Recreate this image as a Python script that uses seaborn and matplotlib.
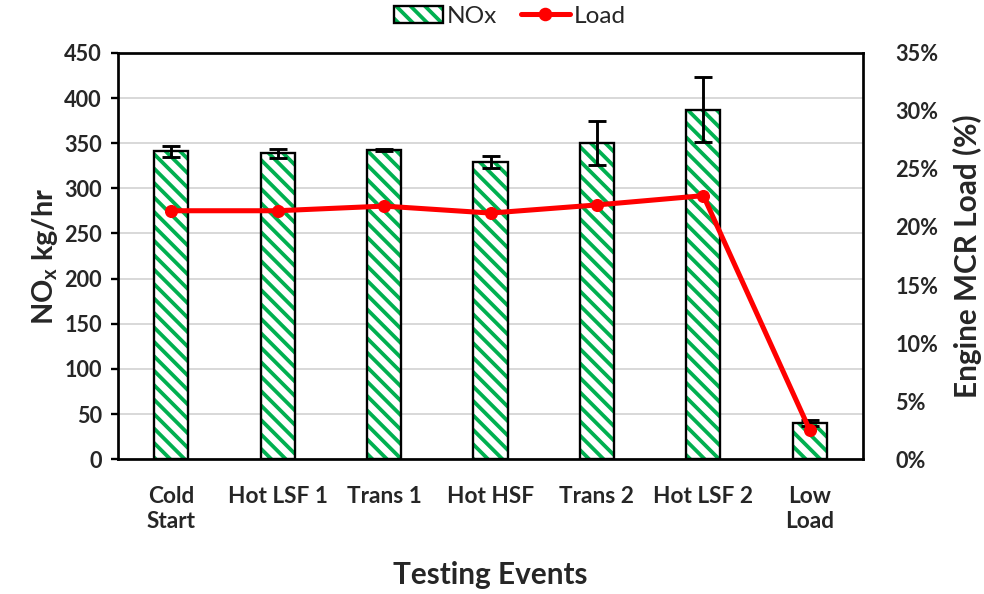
import numpy as np
import pandas as pd
import matplotlib
matplotlib.use("Agg")
import matplotlib.pyplot as plt
from matplotlib.patches import Patch
from matplotlib.lines import Line2D
from matplotlib.legend_handler import HandlerTuple
from matplotlib.ticker import FuncFormatter, MultipleLocator
import seaborn as sns

events = ["Cold\nStart", "Hot LSF 1", "Trans 1", "Hot HSF", "Trans 2", "Hot LSF 2", "Low\nLoad"]
nox_kg_hr = [341, 339, 342, 329, 350, 387, 40]
nox_err = [6, 5, 1, 7, 24, 36, 3]
load_pct = [21.4, 21.4, 21.8, 21.2, 21.9, 22.7, 2.5]

GREEN = "#00B050"
RED = "#FF0000"
HATCH = "\\\\\\"

sns.set_theme(style="white")
plt.rcParams["font.family"] = ["Lato", "DejaVu Sans"]
plt.rcParams["hatch.linewidth"] = 2.1

DPI = 130
fig = plt.figure(figsize=(984 / DPI, 594 / DPI), dpi=DPI)
ax = fig.add_axes([0.12, 0.227, 0.757, 0.684])

df = pd.DataFrame({"event": events, "nox": nox_kg_hr})

# hatched fill (green stripes) then a black outline on top
sns.barplot(data=df, x="event", y="nox", ax=ax, width=0.32, color="white",
            errorbar=None, saturation=1, zorder=2)
for p in list(ax.patches):
    p.set_hatch(HATCH)
    p.set_edgecolor(GREEN)
    p.set_linewidth(0)
    p.set_facecolor("white")
    x0, w, h = p.get_x(), p.get_width(), p.get_height()
    ax.add_patch(plt.Rectangle((x0, 0), w, h, fill=False, edgecolor="black",
                               linewidth=1.3, zorder=3))

x = np.arange(len(events))
ax.errorbar(x, nox_kg_hr, yerr=nox_err, fmt="none", ecolor="black",
            elinewidth=1.6, capsize=5, capthick=1.6, zorder=4)

ax.set_ylim(0, 450)
ax.yaxis.set_major_locator(MultipleLocator(50))
ax.set_xlim(-0.5, len(events) - 0.5)
ax.grid(axis="y", color="#D9D9D9", linewidth=1.1, zorder=0)
ax.set_axisbelow(True)

for s in ax.spines.values():
    s.set_color("black")
    s.set_linewidth(1.5)

ax.tick_params(axis="y", which="major", direction="out", length=4, width=1.3,
               color="black", left=True, labelsize=12, pad=5)
ax.tick_params(axis="x", bottom=False, labelsize=12.5, pad=9)
for lab in ax.get_yticklabels() + ax.get_xticklabels():
    lab.set_fontweight("bold")

ax.set_xlabel("Testing Events", fontsize=16.5, fontweight="bold", labelpad=16)
ax.set_ylabel(r"NO$_\mathregular{x}$ kg/hr", fontsize=16, fontweight="bold", labelpad=2)

# load on the secondary axis
ax2 = ax.twinx()
sns.lineplot(x=x, y=load_pct, ax=ax2, color=RED, linewidth=2.8, marker="o",
             markersize=6.5, markeredgecolor=RED, zorder=5)
ax2.set_ylim(0, 35)
ax2.yaxis.set_major_locator(MultipleLocator(5))
ax2.yaxis.set_major_formatter(FuncFormatter(lambda v, _: f"{v:.0f}%"))
ax2.tick_params(axis="y", right=False, labelsize=12, pad=12)
for lab in ax2.get_yticklabels():
    lab.set_fontweight("bold")
ax2.set_ylabel("Engine MCR Load (%)", fontsize=16.5, fontweight="bold", labelpad=8)
ax2.grid(False)
for s in ax2.spines.values():
    s.set_visible(False)

nox_handle = (
    Patch(facecolor="white", edgecolor=GREEN, hatch=HATCH, linewidth=0),
    Patch(facecolor="none", edgecolor="black", linewidth=1.3),
)
load_handle = Line2D([0], [0], color=RED, linewidth=2.8, marker="o", markersize=6.5)
fig.legend([nox_handle, load_handle], ["NOx", "Load"], loc="center",
           bbox_to_anchor=(0.518, 0.973), ncol=2, frameon=False, fontsize=13.5,
           handlelength=2.0, handletextpad=0.15, columnspacing=1.0,
           handler_map={tuple: HandlerTuple(ndivide=1, pad=0)})

fig.savefig("out.png", dpi=DPI)
